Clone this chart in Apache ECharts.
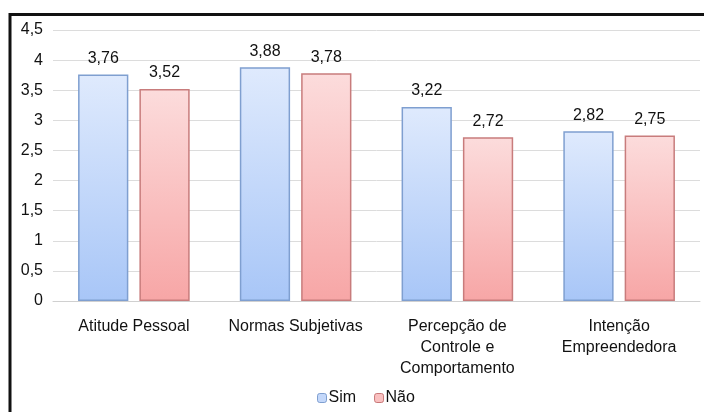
<!DOCTYPE html>
<html>
<head>
<meta charset="utf-8">
<script src="https://cdn.jsdelivr.net/npm/echarts@6/dist/echarts.min.js"></script>
<style>
  html, body { margin: 0; padding: 0; background: #fff; }
  #chart { width: 704px; height: 412px; }
</style>
</head>
<body>
<div id="chart"></div>
<script>
let categories = ["Atitude Pessoal", "Normas Subjetivas", "Percepção de\nControle e\nComportamento", "Intenção\nEmpreendedora"];
let simValues = [3.76, 3.88, 3.22, 2.82];
let naoValues = [3.52, 3.78, 2.72, 2.75];

let fmt = (v) => String(v).replace(".", ",");

let myChart = echarts.init(document.getElementById("chart"));

let labelStyle = {
  show: true,
  position: "top",
  distance: 8,
  color: "#111",
  fontSize: 16,
  formatter: (p) => fmt(p.value.toFixed(2)),
};

let option = {
  backgroundColor: "#fff",
  textStyle: { fontFamily: "Liberation Sans, Arial, sans-serif" },
  animation: false,
  graphic: [
    {
      type: "line",
      shape: { x1: 10, y1: 14.5, x2: 720, y2: 14.5 },
      style: { stroke: "#111", lineWidth: 3 },
      z: 100,
    },
    {
      type: "line",
      shape: { x1: 10, y1: 13, x2: 10, y2: 430 },
      style: { stroke: "#111", lineWidth: 3 },
      z: 100,
    },
  ],
  legend: {
    bottom: 1,
    left: 312,
    itemWidth: 9,
    itemHeight: 9,
    itemGap: 18,
    textStyle: { fontSize: 16, color: "#111", padding: [0, 0, 0, -3] },
    data: [
      { name: "Sim", itemStyle: { color: "#c4d8fa", borderColor: "#7f9fd0", borderWidth: 1 } },
      { name: "Não", itemStyle: { color: "#f9c0c0", borderColor: "#c87878", borderWidth: 1 } },
    ],
  },
  grid: {
    left: 53,
    right: 4,
    top: 30,
    bottom: 111,
  },
  xAxis: {
    type: "category",
    data: categories,
    axisLine: { lineStyle: { color: "#d0d0d0" } },
    axisTick: { show: false },
    axisLabel: {
      color: "#111",
      fontSize: 16,
      lineHeight: 21,
      margin: 15,
      interval: 0,
    },
  },
  yAxis: {
    type: "value",
    min: 0,
    max: 4.5,
    interval: 0.5,
    axisLine: { show: false },
    axisTick: { show: false },
    splitLine: { lineStyle: { color: "#dcdcdc" } },
    axisLabel: {
      color: "#111",
      fontSize: 16,
      margin: 10,
      formatter: (v) => fmt(v),
    },
  },
  series: [
    {
      name: "Sim",
      type: "bar",
      barGap: "22%",
      barCategoryGap: "31%",
      data: simValues,
      label: labelStyle,
      itemStyle: {
        borderColor: "#7f9fd0",
        borderWidth: 1.5,
        color: new echarts.graphic.LinearGradient(0, 0, 0, 1, [
          { offset: 0, color: "#dfeafd" },
          { offset: 1, color: "#a8c6f7" },
        ]),
      },
    },
    {
      name: "Não",
      type: "bar",
      data: naoValues,
      label: labelStyle,
      itemStyle: {
        borderColor: "#c87c7c",
        borderWidth: 1.5,
        color: new echarts.graphic.LinearGradient(0, 0, 0, 1, [
          { offset: 0, color: "#fcdcdc" },
          { offset: 1, color: "#f7a6a6" },
        ]),
      },
    },
  ],
};
myChart.setOption(option);
</script>
</body>
</html>
